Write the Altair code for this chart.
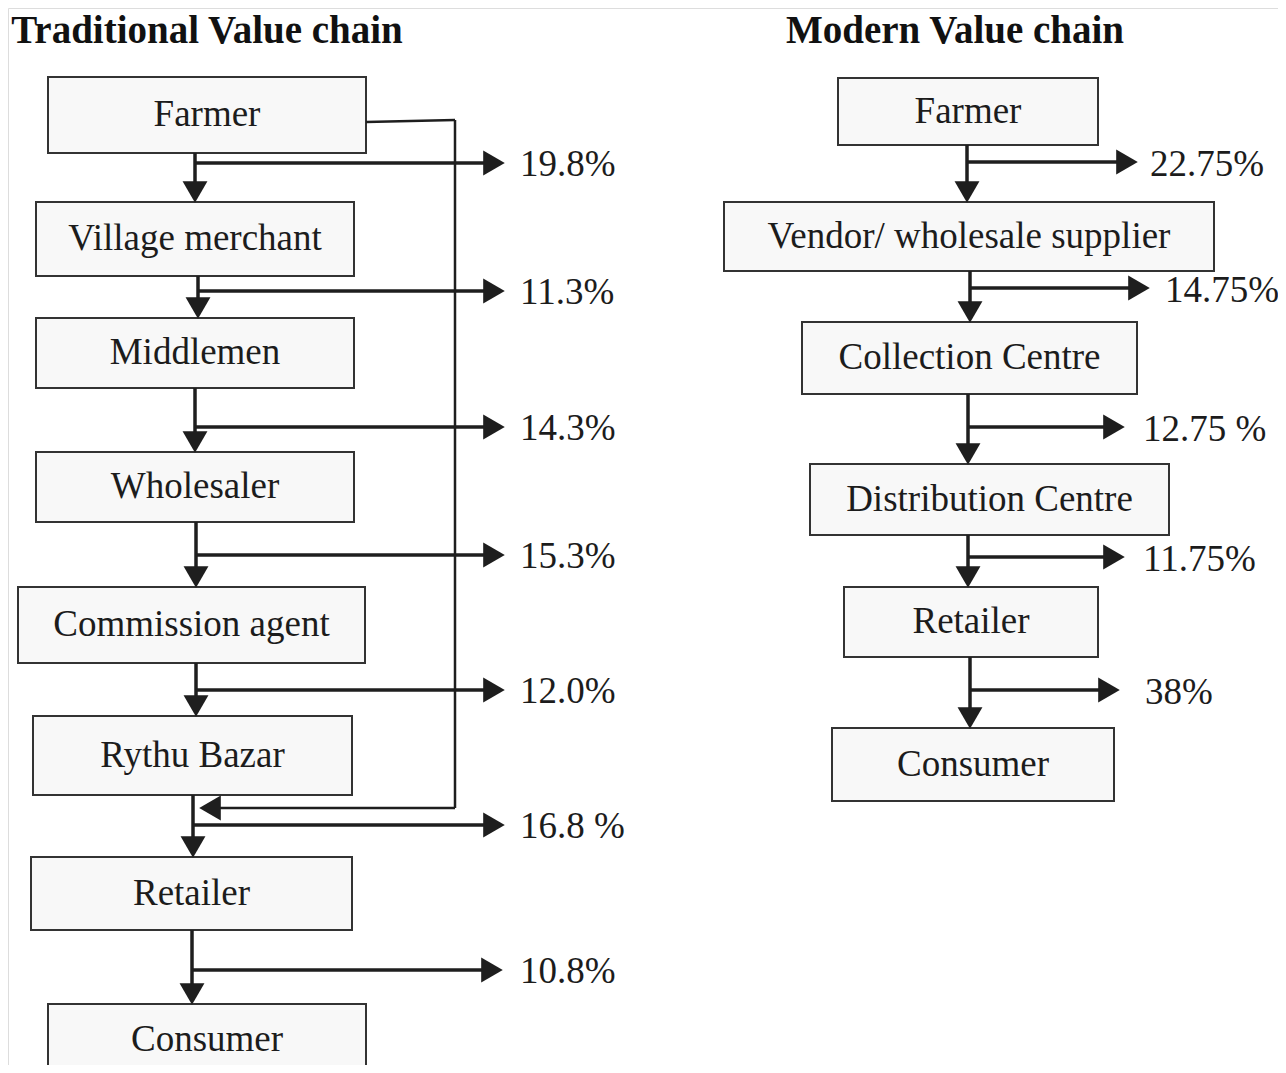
import altair as alt
import pandas as pd

# ---------------- data (reference pixel coordinates) ----------------
titles = ["Traditional Value chain", "Modern Value chain"]
title_x = [207, 955]
title_y = [31, 31]

trad_labels = ["Farmer", "Village merchant", "Middlemen", "Wholesaler",
               "Commission agent", "Rythu Bazar", "Retailer", "Consumer"]
trad_x1 = [48, 36, 36, 36, 18, 33, 31, 48]
trad_x2 = [366, 354, 354, 354, 365, 352, 352, 366]
trad_y1 = [77, 202, 318, 452, 587, 716, 857, 1004]
trad_y2 = [153, 276, 388, 522, 663, 795, 930, 1078]

trad_shares = ["19.8%", "11.3%", "14.3%", "15.3%", "12.0%", "16.8 %", "10.8%"]
trad_stem_x = [195, 198, 195, 196, 196, 193, 192]
trad_branch_y = [163, 291, 427, 555, 690, 825, 970]
trad_branch_end = [505, 505, 505, 505, 505, 505, 503]
trad_label_x = [520, 520, 520, 520, 520, 520, 520]

mod_labels = ["Farmer", "Vendor/ wholesale supplier", "Collection Centre",
              "Distribution Centre", "Retailer", "Consumer"]
mod_x1 = [838, 724, 802, 810, 844, 832]
mod_x2 = [1098, 1214, 1137, 1169, 1098, 1114]
mod_y1 = [78, 202, 322, 464, 587, 728]
mod_y2 = [145, 271, 394, 535, 657, 801]

mod_shares = ["22.75%", "14.75%", "12.75 %", "11.75%", "38%"]
mod_stem_x = [967, 970, 968, 968, 970]
mod_branch_y = [162, 288, 427, 557, 690]
mod_branch_end = [1138, 1150, 1125, 1125, 1120]
mod_label_x = [1150, 1165, 1143, 1143, 1145]

# bypass path Farmer -> Retailer link
bypass_x = [366, 455, 455, 455]
bypass_y = [122, 120, 808, 808]
bypass_end_x = 208

# ---------------- tables ----------------
boxes = pd.DataFrame({
    "label": trad_labels + mod_labels,
    "x1": trad_x1 + mod_x1, "x2": trad_x2 + mod_x2,
    "y1": trad_y1 + mod_y1, "y2": trad_y2 + mod_y2,
})
boxes["cx"] = (boxes.x1 + boxes.x2) / 2
boxes["cy"] = (boxes.y1 + boxes.y2) / 2
boxes.loc[7, "cy"] = 1040

stems = []
for i in range(len(trad_stem_x)):
    stems.append({"x": trad_stem_x[i], "y": trad_y2[i], "x2": trad_stem_x[i], "y2": trad_y1[i + 1] - 14})
for i in range(len(mod_stem_x)):
    stems.append({"x": mod_stem_x[i], "y": mod_y2[i], "x2": mod_stem_x[i], "y2": mod_y1[i + 1] - 14})
stems = pd.DataFrame(stems)

branches = []
for i in range(len(trad_stem_x)):
    branches.append({"x": trad_stem_x[i], "y": trad_branch_y[i], "x2": trad_branch_end[i] - 14, "y2": trad_branch_y[i]})
for i in range(len(mod_stem_x)):
    branches.append({"x": mod_stem_x[i], "y": mod_branch_y[i], "x2": mod_branch_end[i] - 14, "y2": mod_branch_y[i]})
branches = pd.DataFrame(branches)

heads_down = pd.DataFrame({
    "x": trad_stem_x + mod_stem_x,
    "y": [v - 10 for v in trad_y1[1:]] + [v - 10 for v in mod_y1[1:]],
})
heads_right = pd.DataFrame({
    "x": [v - 11 for v in trad_branch_end] + [v - 11 for v in mod_branch_end],
    "y": trad_branch_y + mod_branch_y,
})
heads_left = pd.DataFrame({"x": [bypass_end_x + 2], "y": [bypass_y[-1]]})

shares = pd.DataFrame({
    "label": trad_shares + mod_shares,
    "x": trad_label_x + mod_label_x,
    "y": [v + 2 for v in trad_branch_y] + [v + 3 for v in mod_branch_y],
})

bypass = pd.DataFrame({
    "x": bypass_x[:3],
    "y": bypass_y[:3],
    "x2": bypass_x[1:3] + [bypass_end_x + 12],
    "y2": bypass_y[1:3] + [bypass_y[-1]],
})

title_df = pd.DataFrame({"label": titles, "x": title_x, "y": title_y})

# ---------------- scales ----------------
W, H = 1270, 1057
xs = alt.Scale(domain=[8, 8 + W], nice=False, zero=False)
ys = alt.Scale(domain=[8, 8 + H], nice=False, zero=False, reverse=True)
X = lambda f: alt.X(f, type="quantitative", scale=xs, axis=None)
Y = lambda f: alt.Y(f, type="quantitative", scale=ys, axis=None)

INK = "#1e1e1e"
SERIF = "Liberation Serif"

rects = alt.Chart(boxes).mark_rect(fill="#f8f8f8", stroke="#333333", strokeWidth=2, clip=True).encode(
    x=X("x1"), x2="x2", y=Y("y1"), y2="y2")

box_text = alt.Chart(boxes).mark_text(font=SERIF, fontSize=37, color="#1c1c1c",
                                      align="center", baseline="middle").encode(
    x=X("cx"), y=Y("cy"), text="label:N")

stem_rules = alt.Chart(stems).mark_rule(color=INK, strokeWidth=3.5).encode(
    x=X("x"), y=Y("y"), x2="x2", y2="y2")
branch_rules = alt.Chart(branches).mark_rule(color=INK, strokeWidth=3.5).encode(
    x=X("x"), y=Y("y"), x2="x2", y2="y2")
bypass_rules = alt.Chart(bypass).mark_rule(color=INK, strokeWidth=2.5).encode(
    x=X("x"), y=Y("y"), x2="x2", y2="y2")

HS = 620
hd = alt.Chart(heads_down).mark_point(shape="triangle-down", size=HS, filled=True, opacity=1, color=INK).encode(
    x=X("x"), y=Y("y"))
hr = alt.Chart(heads_right).mark_point(shape="triangle-right", size=HS, filled=True, opacity=1, color=INK).encode(
    x=X("x"), y=Y("y"))
hl = alt.Chart(heads_left).mark_point(shape="triangle-left", size=HS, filled=True, opacity=1, color=INK).encode(
    x=X("x"), y=Y("y"))

share_text = alt.Chart(shares).mark_text(font=SERIF, fontSize=37, color="#1c1c1c",
                                         align="left", baseline="middle").encode(
    x=X("x"), y=Y("y"), text="label:N")

title_text = alt.Chart(title_df).mark_text(font=SERIF, fontSize=39, fontWeight="bold", color="#111111",
                                           align="center", baseline="middle").encode(
    x=X("x"), y=Y("y"), text="label:N")

chart = alt.layer(
    rects, box_text, stem_rules, branch_rules, bypass_rules, hd, hr, hl, share_text, title_text
).properties(width=W, height=H, padding=0, autosize=alt.AutoSizeParams(type="none")).configure_view(
    strokeWidth=0, strokeOpacity=0).configure(background="white")

chart.save("out.html", embed_options={"renderer": "svg", "actions": False})
